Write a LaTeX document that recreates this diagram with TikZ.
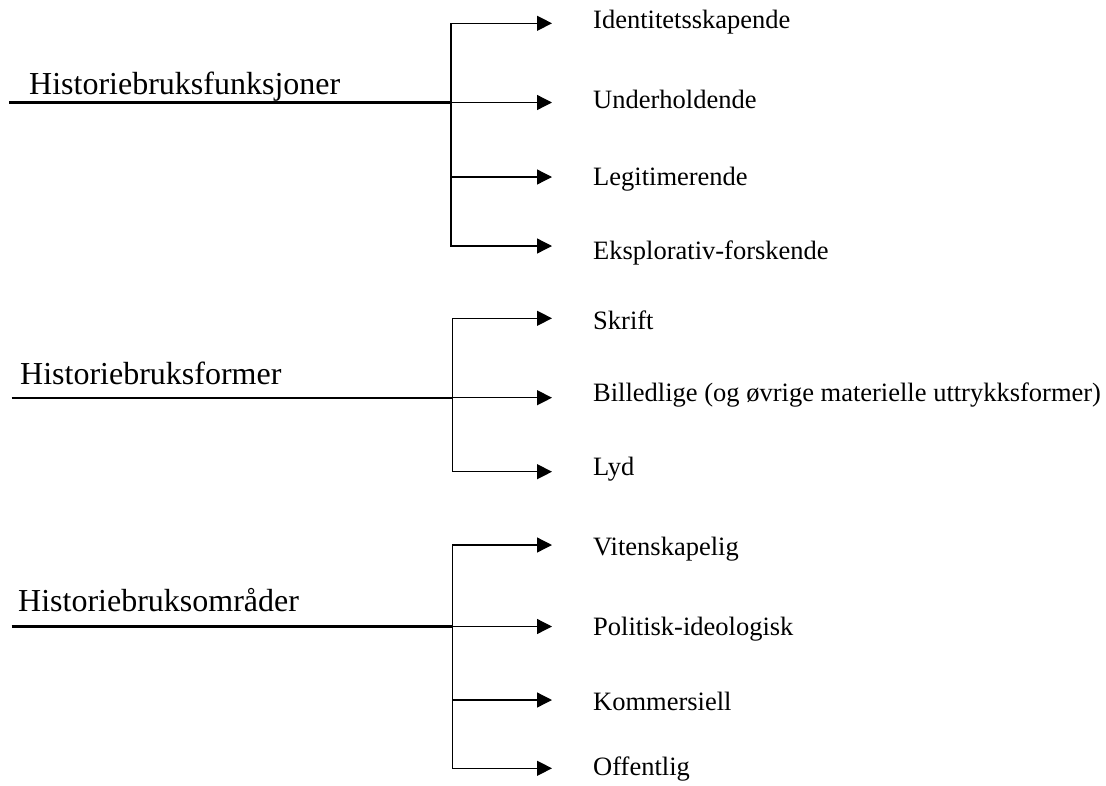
\documentclass[tikz,border=0pt]{standalone}
\usepackage{fontspec}
\setmainfont{Liberation Serif}
\usetikzlibrary{arrows.meta}

\tikzset{
  tittel/.style={inner sep=0pt, anchor=base west, font=\fontsize{32}{38}\selectfont},
  valg/.style={inner sep=0pt, anchor=base west, font=\fontsize{26.5}{32}\selectfont},
  stamme/.style={line width=2.3pt},
  gren/.style={->, line width=1.3pt}
}

\begin{document}
\begin{tikzpicture}[x=1pt, y=-1pt, line join=miter, >={Triangle[length=15pt,width=15pt]}]
        \useasboundingbox (0,0) rectangle (1106,785);

        % Historiebruksfunksjoner
        \node[tittel] (tA) at (29,94.5) {Historiebruksfunksjoner};
        \coordinate (sA) at (9,102.5);
        \coordinate (jA) at (451,102.5);
        \coordinate (pA1) at (552,23.3);
        \coordinate (pA2) at (552,102.5);
        \coordinate (pA3) at (552,177);
        \coordinate (pA4) at (552,246);
        \node[valg] (a1) at (593,28.3) {Identitetsskapende};
        \node[valg] (a2) at (593,108) {Underholdende};
        \node[valg] (a3) at (593,185) {Legitimerende};
        \node[valg] (a4) at (593,259.5) {Eksplorativ-forskende};
        \draw[stamme] (sA) -- (jA);
        \draw[gren] (jA) |- (pA1);
        \draw[gren] (jA) -- (pA2);
        \draw[gren] (jA) |- (pA3);
        \draw[gren] (jA) |- (pA4);

        % Historiebruksformer
        \node[tittel] (tB) at (20,384) {Historiebruksformer};
        \coordinate (sB) at (11.5,397.7);
        \coordinate (jB) at (452.5,397.7);
        \coordinate (pB1) at (552,318.3);
        \coordinate (pB2) at (552,397.7);
        \coordinate (pB3) at (552,471.7);
        \node[valg] (b1) at (593,329.3) {Skrift};
        \node[valg] (b2) at (593,401.7) {Billedlige (og øvrige materielle uttrykksformer)};
        \node[valg] (b3) at (593,475) {Lyd};
        \draw[stamme] (sB) -- (jB);
        \draw[gren] (jB) |- (pB1);
        \draw[gren] (jB) -- (pB2);
        \draw[gren] (jB) |- (pB3);

        % Historiebruksområder
        \node[tittel] (tC) at (18,611.7) {Historiebruksområder};
        \coordinate (sC) at (11.5,626.5);
        \coordinate (jC) at (452.5,626.5);
        \coordinate (pC1) at (552,545);
        \coordinate (pC2) at (552,626.5);
        \coordinate (pC3) at (552,700);
        \coordinate (pC4) at (552,768.3);
        \node[valg] (c1) at (593,555) {Vitenskapelig};
        \node[valg] (c2) at (593,635) {Politisk-ideologisk};
        \node[valg] (c3) at (593,710) {Kommersiell};
        \node[valg] (c4) at (593,775) {Offentlig};
        \draw[stamme] (sC) -- (jC);
        \draw[gren] (jC) |- (pC1);
        \draw[gren] (jC) -- (pC2);
        \draw[gren] (jC) |- (pC3);
        \draw[gren] (jC) |- (pC4);
\end{tikzpicture}
\end{document}
